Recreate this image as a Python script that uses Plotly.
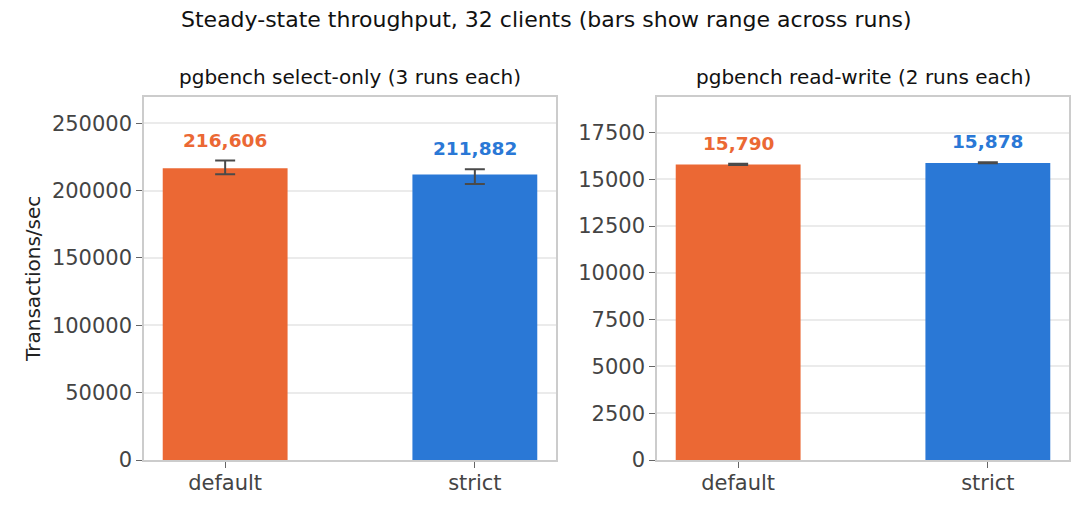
import plotly.graph_objects as go

categories = ["default", "strict"]
colors = ["#EB6834", "#2A78D6"]

select_mean = [216606, 211882]
select_lo = [212200, 205000]
select_hi = [222300, 215800]

rw_mean = [15790, 15878]
rw_lo = [15760, 15855]
rw_hi = [15830, 15910]

panel_titles = ["pgbench select-only (3 runs each)", "pgbench read-write (2 runs each)"]
title = "Steady-state throughput, 32 clients (bars show range across runs)"
y_title = "Transactions/sec"

W, H = 1092, 518
OFF = 8  # page body margin offset
FONT = "DejaVu Sans"
L, R, T, B = 144, 1069, 97, 460
PW, PH = R - L, B - T


def px(x):
    return (x - L) / PW


def py(y):
    return (B - y) / PH


fig = go.Figure()

panels = [
    (select_mean, select_lo, select_hi, "x", "y"),
    (rw_mean, rw_lo, rw_hi, "x2", "y2"),
]

for (mean, lo, hi, xa, ya) in panels:
    fig.add_trace(go.Bar(
        x=categories, y=mean, marker=dict(color=colors, line=dict(width=0)),
        width=0.5, xaxis=xa, yaxis=ya, showlegend=False,
        error_y=dict(type="data", symmetric=False,
                     array=[h - m for h, m in zip(hi, mean)],
                     arrayminus=[m - l for m, l in zip(mean, lo)],
                     color="#4a4a4a", thickness=2, width=10),
    ))
    for c, m, h, col in zip(categories, mean, hi, colors):
        fig.add_annotation(x=c, y=h, xref=xa, yref=ya, text=f"<b>{m:,}</b>",
                           showarrow=False, yanchor="bottom", yshift=8,
                           font=dict(family=FONT, size=18.5, color=col))

axis_common = dict(showline=True, linecolor="#cccccc", linewidth=1.5, mirror=True,
                   ticks="outside", tickcolor="#666666", ticklen=6, automargin=False,
                   tickfont=dict(family=FONT, size=21, color="#444444"))

fig.update_layout(
    width=W, height=H,
    margin=dict(l=L - OFF, r=W + OFF - R, t=T - OFF, b=H + OFF - B, autoexpand=False),
    paper_bgcolor="white", plot_bgcolor="white",
    font=dict(family=FONT),
    xaxis=dict(domain=[0, px(556)], range=[-0.325, 1.325], anchor="y",
               showgrid=False, ticklabelstandoff=-3, **axis_common),
    yaxis=dict(domain=[0, 1], range=[0, 269500], dtick=50000, anchor="x",
               showgrid=True, gridcolor="#ebebeb", gridwidth=1.5, zeroline=False,
               tickformat="d", **axis_common),
    xaxis2=dict(domain=[px(657), 1], range=[-0.325, 1.325], anchor="y2",
                showgrid=False, ticklabelstandoff=-3, **axis_common),
    yaxis2=dict(domain=[0, 1], range=[0, 19400], dtick=2500, anchor="x2",
                showgrid=True, gridcolor="#ebebeb", gridwidth=1.5, zeroline=False,
                tickformat="d", **axis_common),
)

fig.add_annotation(text=title, xref="paper", yref="paper", x=px(546), y=py(20),
                   showarrow=False, xanchor="center", yanchor="middle",
                   font=dict(family=FONT, size=22, color="#111111"))
for t, cx in zip(panel_titles, [350, 863]):
    fig.add_annotation(text=t, xref="paper", yref="paper", x=px(cx), y=py(77),
                       showarrow=False, xanchor="center", yanchor="middle",
                       font=dict(family=FONT, size=20, color="#111111"))
fig.add_annotation(text=y_title, xref="paper", yref="paper", x=px(33), y=py(279),
                   showarrow=False, xanchor="center", yanchor="middle", textangle=-90,
                   font=dict(family=FONT, size=20, color="#222222"))

fig.write_html("out.html")
